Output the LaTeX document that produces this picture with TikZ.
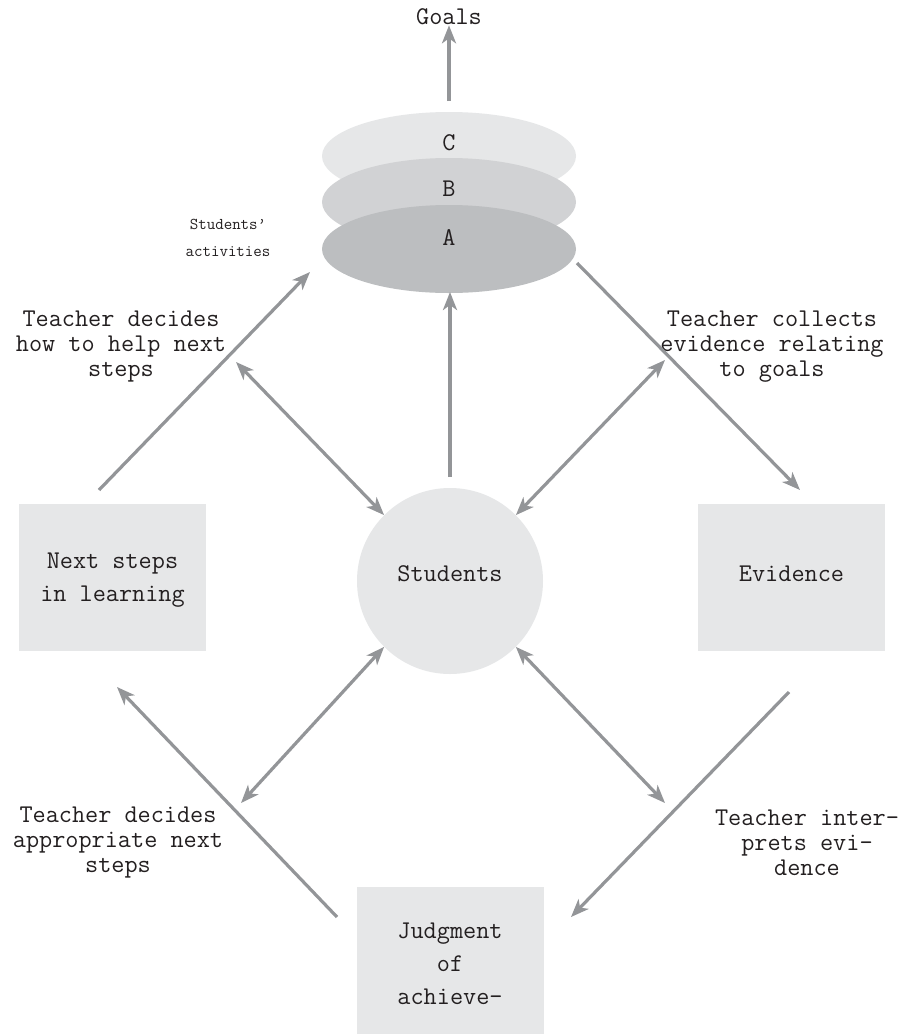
\documentclass[tikz,border=0pt]{standalone}
\usepackage{fontspec}
\usetikzlibrary{arrows.meta,shapes.geometric}
\definecolor{arrcol}{HTML}{939598}
\definecolor{boxcol}{HTML}{E6E7E8}
\definecolor{elC}{HTML}{E6E7E8}
\definecolor{elB}{HTML}{D1D2D4}
\definecolor{elA}{HTML}{BCBEC0}
\definecolor{txt}{HTML}{231F20}
\tikzset{
  conn/.style={draw=arrcol, line width=3.2pt, -{Stealth[length=18pt,width=14pt,inset=5pt]}},
  dconn/.style={draw=arrcol, line width=3.2pt, {Stealth[length=18pt,width=14pt,inset=5pt]}-{Stealth[length=18pt,width=14pt,inset=5pt]}},
  boxnode/.style={fill=boxcol, minimum width=187pt, minimum height=147pt, inner sep=0pt},
  disc/.style={ellipse, minimum width=254pt, minimum height=88pt, inner sep=0pt},
  lbl/.style={text=txt, font=\ttfamily\fontsize{25.5}{25}\selectfont, align=center, inner sep=0pt},
  boxlbl/.style={text=txt, font=\ttfamily\fontsize{25.5}{33}\selectfont, align=center, inner sep=0pt},
  small/.style={text=txt, font=\ttfamily\fontsize{16.5}{27}\selectfont, align=center, inner sep=0pt}
}
\begin{document}
\begin{tikzpicture}[x=1pt,y=-1pt]
\useasboundingbox (0,0) rectangle (903,1034);
\fill[white] (0,0) rectangle (903,1034);
% ellipses
\node[disc, fill=elC] (ec) at (449,156) {};
\node[disc, fill=elB] (eb) at (449,202) {};
\node[disc, fill=elA] (ea) at (449,249) {};
\node[lbl] (tc) at (449,143) {C};
\node[lbl] (tb) at (449,189) {B};
\node[lbl] (ta) at (449,238) {A};
% goals
\node[lbl] (goals) at (449,17) {Goals};
\coordinate (gstart) at (449,101);
\draw[conn] (gstart) -- (goals.south);
% students circle
\node[circle, fill=boxcol, minimum size=186pt, inner sep=0pt] (stu) at (450,581) {};
\node[lbl] (stut) at (450,574) {Students};
% boxes
\node[boxnode] (next) at (112.5,577.5) {};
\node[boxlbl] (nextt) at (112.5,580) {Next steps\\in learning};
\node[boxnode] (evid) at (791.5,577.5) {};
\node[boxlbl] (evidt) at (791.5,574) {Evidence};
\node[boxnode] (judg) at (450,960.5) {};
\node[boxlbl] (judgt) at (450,964) {Judgment\\of\\achieve-};
% labels
\node[small] (act) at (228,238) {Students’\\activities};
\node[lbl] (l1) at (121,347) {Teacher decides\\how to help next\\steps};
\node[lbl] (l2) at (772,347) {Teacher collects\\evidence relating\\to goals};
\node[lbl] (l3) at (118,843) {Teacher decides\\appropriate next\\steps};
\node[lbl] (l4) at (807,843) {Teacher inter-\\prets evi-\\dence};
% coordinates
\coordinate (a1s) at (99,490);
\coordinate (a1e) at (310,272);
\coordinate (a2s) at (450,477);
\coordinate (a2e) at (450,292);
\coordinate (a3s) at (577,263);
\coordinate (a3e) at (800,490);
\coordinate (a8s) at (337,917);
\coordinate (a8e) at (117,687);
\coordinate (a9s) at (789,692);
\coordinate (a9e) at (571,917);
\coordinate (d1) at (236,362);
\coordinate (d2) at (665,360);
\coordinate (d3) at (241,803);
\coordinate (d4) at (665,803);
% connectors
\draw[conn] (a1s) -- (a1e);
\draw[conn] (a2s) -- (a2e);
\draw[conn] (a3s) -- (a3e);
\draw[conn] (a8s) -- (a8e);
\draw[conn] (a9s) -- (a9e);
\draw[dconn] (d1) -- (stu.135);
\draw[dconn] (d2) -- (stu.45);
\draw[dconn] (d3) -- (stu.225);
\draw[dconn] (d4) -- (stu.315);
\end{tikzpicture}
\end{document}
